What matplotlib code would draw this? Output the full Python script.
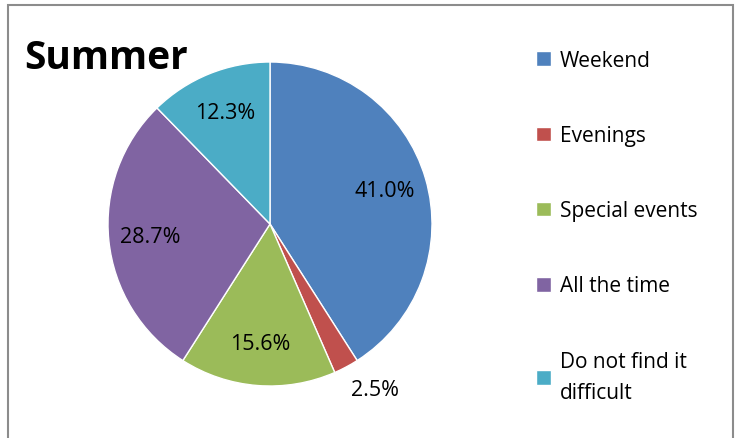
import numpy as np
import matplotlib
matplotlib.use("Agg")
import matplotlib.pyplot as plt
from matplotlib.patches import Rectangle

categories = ["Weekend", "Evenings", "Special events", "All the time", "Do not find it\ndifficult"]
shares = [41.0, 2.5, 15.6, 28.7, 12.3]
colors = ["#4F81BD", "#C0504D", "#9BBB59", "#8064A2", "#4BACC6"]

plt.rcParams["font.family"] = ["Open Sans", "DejaVu Sans"]

W, H = 739, 439
fig = plt.figure(figsize=(W / 100, H / 100), dpi=100)

# outer frame
fig.patches.append(Rectangle((8 / W, -0.1), 725 / W, 1.1 - 6 / H, transform=fig.transFigure,
                             fill=False, edgecolor="#8c8c8c", linewidth=1.5))

cx, cy, r = 270, 225, 162
ax = fig.add_axes([(cx - r) / W, (H - cy - r) / H, 2 * r / W, 2 * r / H])
wedges, texts, autotexts = ax.pie(
    shares,
    colors=colors,
    startangle=90,
    counterclock=False,
    autopct="%.1f%%",
    pctdistance=0.74,
    wedgeprops=dict(edgecolor="white", linewidth=1),
    textprops=dict(fontsize=15.5, color="black"),
    radius=1,
)
ax.set_xlim(-1, 1)
ax.set_ylim(-1, 1)
ax.set_aspect("equal")

# small slice label sits outside the pie
w = wedges[1]
ang = np.deg2rad((w.theta1 + w.theta2) / 2 + 4.5)
autotexts[1].set_position((1.21 * np.cos(ang), 1.21 * np.sin(ang)))

fig.text(24 / W, 1 - 69 / H, "Summer", fontsize=28, fontweight="bold", va="baseline")

leg = fig.legend(wedges, categories, loc="upper left", bbox_to_anchor=(536 / W, 1 - 51 / H),
                 frameon=False, fontsize=15, labelspacing=2.6, handlelength=0.7,
                 handleheight=0.7, handletextpad=0.45, borderpad=0, borderaxespad=0)
leg.get_texts()[-1].set_linespacing(1.65)

fig.savefig("out.png", dpi=100)
